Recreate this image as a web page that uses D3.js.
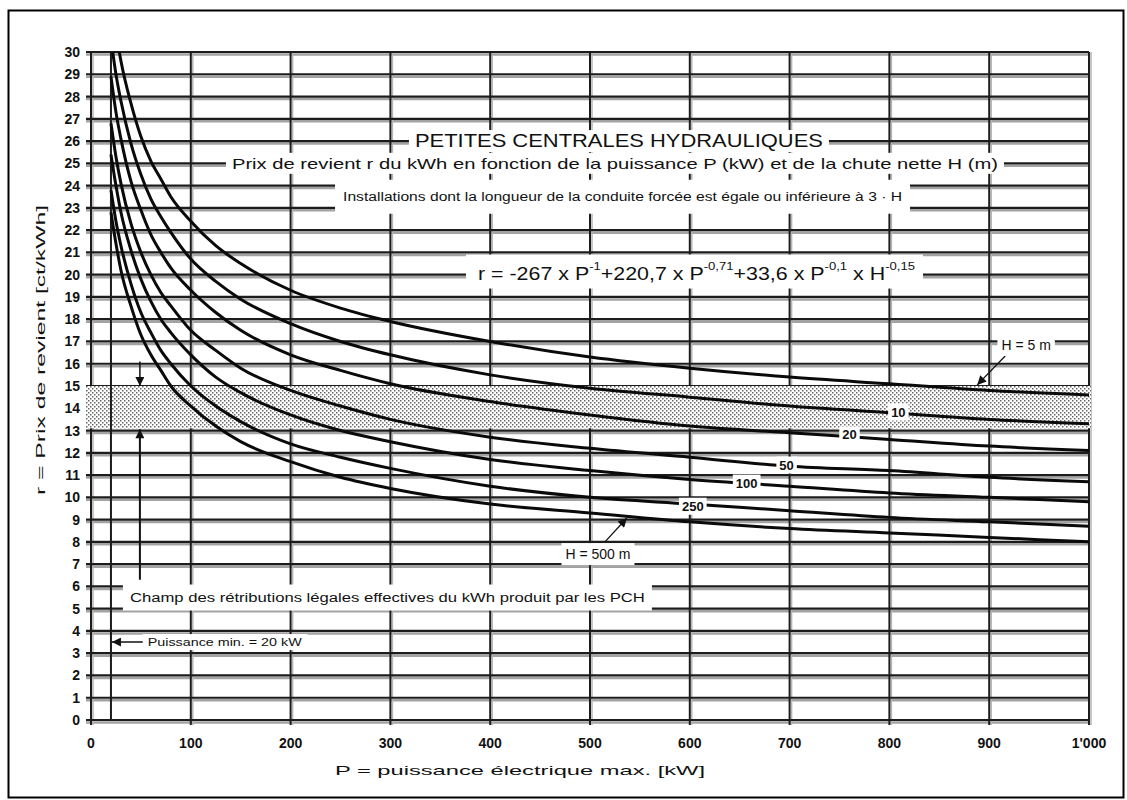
<!DOCTYPE html>
<html>
<head>
<meta charset="utf-8">
<script src="https://cdn.jsdelivr.net/npm/d3@7"></script>
<style>
  body { margin: 0; background: #fff; }
  text { font-family: "Liberation Sans", Arial, sans-serif; fill: #111; }
</style>
</head>
<body>
<div id="chart"></div>
<script>
const width = 1127;
const height = 800;

// Read-off points of the curves: P [kW] and r [ct/kWh] for each net head H
const powerKW = [20, 25, 30, 40, 50, 60, 70, 80, 100, 125, 150, 200, 250, 300, 400, 500, 600, 700, 800, 900, 1000];
const costH5   = [32.5, 30.9, 29.6, 27.7, 26.2, 25.1, 24.3, 23.5, 22.4, 21.3, 20.5, 19.3, 18.5, 17.9, 17.0, 16.3, 15.8, 15.4, 15.1, 14.8, 14.6];
const costH10  = [30.6, 29.0, 27.8, 25.9, 24.5, 23.4, 22.6, 21.9, 20.7, 19.7, 18.9, 17.8, 17.0, 16.4, 15.5, 14.9, 14.5, 14.1, 13.8, 13.5, 13.3];
const costH20  = [28.9, 27.3, 26.1, 24.2, 22.9, 21.8, 21.0, 20.3, 19.3, 18.3, 17.5, 16.4, 15.7, 15.1, 14.3, 13.7, 13.2, 12.9, 12.6, 12.3, 12.1];
const costH50  = [26.8, 25.3, 24.1, 22.3, 21.0, 20.0, 19.2, 18.6, 17.5, 16.6, 15.8, 14.8, 14.1, 13.5, 12.7, 12.2, 11.8, 11.4, 11.2, 10.9, 10.7];
const costH100 = [25.4, 24.0, 22.8, 21.1, 19.8, 18.8, 18.0, 17.4, 16.4, 15.4, 14.7, 13.7, 13.0, 12.5, 11.7, 11.2, 10.8, 10.5, 10.2, 10.0, 9.8];
const costH250 = [23.8, 22.4, 21.3, 19.6, 18.3, 17.4, 16.6, 16.0, 15.0, 14.1, 13.4, 12.4, 11.8, 11.3, 10.5, 10.0, 9.7, 9.4, 9.1, 8.9, 8.7];
const costH500 = [22.8, 21.4, 20.2, 18.6, 17.3, 16.4, 15.7, 15.0, 14.1, 13.2, 12.5, 11.6, 10.9, 10.4, 9.7, 9.3, 8.9, 8.6, 8.4, 8.2, 8.0];
const curves = [costH5, costH10, costH20, costH50, costH100, costH250, costH500];

// curve labels (placed on the curves)
const curveLabels = ["H = 5 m", "10", "20", "50", "100", "250", "H = 500 m"];
const curveLabelP = [937, 809, 760, 697, 657, 603, 508];
const curveLabelR = [16.85, 13.83, 12.8, 11.45, 10.64, 9.6, 7.45];

// band of legal retributions
const bandLow = 13.1;
const bandHigh = 15.0;
const minPower = 20;

// axes
const yTicks = d3.range(0, 31);
const xTicks = d3.range(0, 1001, 100);
const xTickLabels = ["0", "100", "200", "300", "400", "500", "600", "700", "800", "900", "1'000"];

const svg = d3.select("#chart").append("svg")
  .attr("width", width)
  .attr("height", height);

const x = d3.scaleLinear().domain([0, 1000]).range([91, 1089]);
const y = d3.scaleLinear().domain([0, 30]).range([720, 52]);

const defs = svg.append("defs");

// dotted fill for the band
const pat = defs.append("pattern")
  .attr("id", "dots")
  .attr("width", 4).attr("height", 4)
  .attr("patternUnits", "userSpaceOnUse");
pat.append("rect").attr("width", 4).attr("height", 4).attr("fill", "#fff");
pat.append("rect").attr("x", 0).attr("y", 0).attr("width", 1.5).attr("height", 1.5).attr("fill", "#666");
pat.append("rect").attr("x", 2).attr("y", 2).attr("width", 1.5).attr("height", 1.5).attr("fill", "#666");

defs.append("marker")
  .attr("id", "arrow")
  .attr("viewBox", "0 0 10 10")
  .attr("refX", 10).attr("refY", 5)
  .attr("markerUnits", "userSpaceOnUse")
  .attr("markerWidth", 14).attr("markerHeight", 9)
  .attr("orient", "auto")
  .append("path")
  .attr("d", "M0,0 L10,5 L0,10 z")
  .attr("fill", "#111");

defs.append("clipPath").attr("id", "plotClip")
  .append("rect")
  .attr("x", x(0)).attr("y", y(30))
  .attr("width", x(1000) - x(0))
  .attr("height", y(0) - y(30));

// Grid (dark line with a grey shadow, scanned look)
const grid = svg.append("g");
grid.selectAll("line.hs").data(yTicks).join("line")
  .attr("class", "hs")
  .attr("x1", x(0) - 5).attr("x2", x(1000))
  .attr("y1", d => y(d) + 2.5).attr("y2", d => y(d) + 2.5)
  .attr("stroke", "#a3a3a3").attr("stroke-width", 2.5);
grid.selectAll("line.vs").data(xTicks).join("line")
  .attr("class", "vs")
  .attr("x1", d => x(d) + 2).attr("x2", d => x(d) + 2)
  .attr("y1", y(30)).attr("y2", y(0) + 5)
  .attr("stroke", "#b5b5b5").attr("stroke-width", 1.5);
grid.selectAll("line.h").data(yTicks).join("line")
  .attr("class", "h")
  .attr("x1", x(0) - 5).attr("x2", x(1000))
  .attr("y1", d => y(d)).attr("y2", d => y(d))
  .attr("stroke", "#1c1c1c").attr("stroke-width", 2.2);
grid.selectAll("line.v").data(xTicks).join("line")
  .attr("class", "v")
  .attr("x1", d => x(d)).attr("x2", d => x(d))
  .attr("y1", y(30)).attr("y2", y(0) + 5)
  .attr("stroke", "#1c1c1c").attr("stroke-width", 2);

// Band
svg.append("rect")
  .attr("x", x(0) - 5)
  .attr("y", y(bandHigh))
  .attr("width", x(1000) - x(0) + 7)
  .attr("height", y(bandLow) - y(bandHigh))
  .attr("fill", "url(#dots)");

// minimum power line
svg.append("line")
  .attr("x1", x(minPower)).attr("x2", x(minPower))
  .attr("y1", y(30)).attr("y2", y(0))
  .attr("stroke", "#1c1c1c").attr("stroke-width", 2);

// Curves
const line = d3.line()
  .x((d, i) => x(powerKW[i]))
  .y(d => y(d))
  .curve(d3.curveMonotoneX);

svg.append("g")
  .attr("clip-path", "url(#plotClip)")
  .selectAll("path")
  .data(curves)
  .join("path")
  .attr("d", line)
  .attr("fill", "none")
  .attr("stroke", "#0a0a0a")
  .attr("stroke-width", 3);

// text with white box behind it
function boxedText(g, str, px, py, size, len, padX, padY, weight) {
  const t = g.append("text")
    .attr("x", px).attr("y", py)
    .attr("text-anchor", "middle")
    .attr("dominant-baseline", "central")
    .attr("font-size", size)
    .attr("font-weight", weight || "normal")
    .text(str);
  if (len) t.attr("textLength", len).attr("lengthAdjust", "spacingAndGlyphs");
  const b = t.node().getBBox();
  g.insert("rect", "text")
    .attr("x", b.x - padX).attr("y", b.y - padY)
    .attr("width", b.width + 2 * padX).attr("height", b.height + 2 * padY)
    .attr("fill", "#fff");
  return t;
}

const ann = svg.append("g");

// arrows
ann.append("line")
  .attr("x1", x(916)).attr("y1", y(16.35))
  .attr("x2", x(888)).attr("y2", y(15.05))
  .attr("stroke", "#111").attr("stroke-width", 1.3)
  .attr("marker-end", "url(#arrow)");
ann.append("line")
  .attr("x1", x(515)).attr("y1", y(8.0))
  .attr("x2", x(537)).attr("y2", y(9.07))
  .attr("stroke", "#111").attr("stroke-width", 1.3)
  .attr("marker-end", "url(#arrow)");
ann.append("line")
  .attr("x1", x(49)).attr("y1", y(16.1))
  .attr("x2", x(49)).attr("y2", y(bandHigh))
  .attr("stroke", "#111").attr("stroke-width", 1.5)
  .attr("marker-end", "url(#arrow)");
ann.append("line")
  .attr("x1", x(49)).attr("y1", y(6.3))
  .attr("x2", x(49)).attr("y2", y(bandLow) + 1)
  .attr("stroke", "#111").attr("stroke-width", 2)
  .attr("marker-end", "url(#arrow)");
ann.append("line")
  .attr("x1", x(57)).attr("y1", y(3.5))
  .attr("x2", x(minPower) + 1).attr("y2", y(3.5))
  .attr("stroke", "#111").attr("stroke-width", 1.5)
  .attr("marker-end", "url(#arrow)");

// curve labels
curveLabels.forEach((s, i) => {
  const big = s.startsWith("H");
  boxedText(ann, s, x(curveLabelP[i]), y(curveLabelR[i]), big ? 14 : 13,
    null, big ? 4 : 3, big ? 3 : 1, big ? "normal" : "bold");
});

// titles
boxedText(ann, "PETITES CENTRALES HYDRAULIQUES", x(529), y(26), 18, 408, 6, 1);
boxedText(ann, "Prix de revient r du kWh en fonction de la puissance P (kW) et de la chute nette H (m)",
  x(525), y(25), 15, 766, 6, 2);
boxedText(ann, "Installations dont la longueur de la conduite forcée est égale ou inférieure à 3 · H",
  x(532.6), y(23.5), 12.5, 559, 8, 10);
boxedText(ann, "Champ des rétributions légales effectives du kWh produit par les PCH",
  x(297), y(5.5), 12.5, 515, 7, 6);
boxedText(ann, "Puissance min. = 20 kW", x(134), y(3.5), 11, 154, 5, 2);

// formula with exponents
const fx = x(606.7), fy = y(20.05);
const f = ann.append("text")
  .attr("x", fx).attr("y", fy)
  .attr("text-anchor", "middle")
  .attr("dominant-baseline", "central")
  .attr("font-size", 18)
  .attr("textLength", 437)
  .attr("lengthAdjust", "spacingAndGlyphs");
const parts = [
  ["r = -267 x P", false], ["-1", true], ["+220,7 x P", false], ["-0,71", true],
  ["+33,6 x P", false], ["-0,1", true], [" x H", false], ["-0,15", true]
];
let up = false;
parts.forEach(([s, sup]) => {
  const ts = f.append("tspan").text(s);
  if (sup && !up) { ts.attr("dy", -8).attr("font-size", 11); up = true; }
  else if (!sup && up) { ts.attr("dy", 8); up = false; }
  else if (sup) ts.attr("font-size", 11);
});
const fb = f.node().getBBox();
ann.insert("rect", "text")
  .attr("x", fb.x - 12).attr("y", fb.y - 5)
  .attr("width", fb.width + 20).attr("height", fb.height + 10)
  .attr("fill", "#fff");

// Tick labels
svg.append("g").selectAll("text")
  .data(yTicks)
  .join("text")
  .attr("x", x(0) - 11)
  .attr("y", d => y(d))
  .attr("text-anchor", "end")
  .attr("dominant-baseline", "central")
  .attr("font-size", 14)
  .attr("font-weight", "bold")
  .attr("fill", "#2a2a2a")
  .text(d => d);

svg.append("g").selectAll("text")
  .data(xTicks)
  .join("text")
  .attr("x", d => x(d))
  .attr("y", y(0) + 23)
  .attr("text-anchor", "middle")
  .attr("dominant-baseline", "central")
  .attr("font-size", 14)
  .attr("font-weight", "bold")
  .attr("fill", "#2a2a2a")
  .text((d, i) => xTickLabels[i]);

// Axis titles
svg.append("text")
  .attr("transform", "translate(40,350) rotate(-90)")
  .attr("text-anchor", "middle")
  .attr("dominant-baseline", "central")
  .attr("font-size", 13)
  .attr("textLength", 290)
  .attr("lengthAdjust", "spacingAndGlyphs")
  .text("r = Prix de revient [ct/kWh]");

svg.append("text")
  .attr("x", 520).attr("y", 770)
  .attr("text-anchor", "middle")
  .attr("dominant-baseline", "central")
  .attr("font-size", 13)
  .attr("textLength", 370)
  .attr("lengthAdjust", "spacingAndGlyphs")
  .text("P = puissance électrique max. [kW]");

// outer frame
svg.append("rect")
  .attr("x", 8.5).attr("y", 10.5)
  .attr("width", 1115).attr("height", 787)
  .attr("fill", "none")
  .attr("stroke", "#000")
  .attr("stroke-width", 2);
</script>
</body>
</html>
